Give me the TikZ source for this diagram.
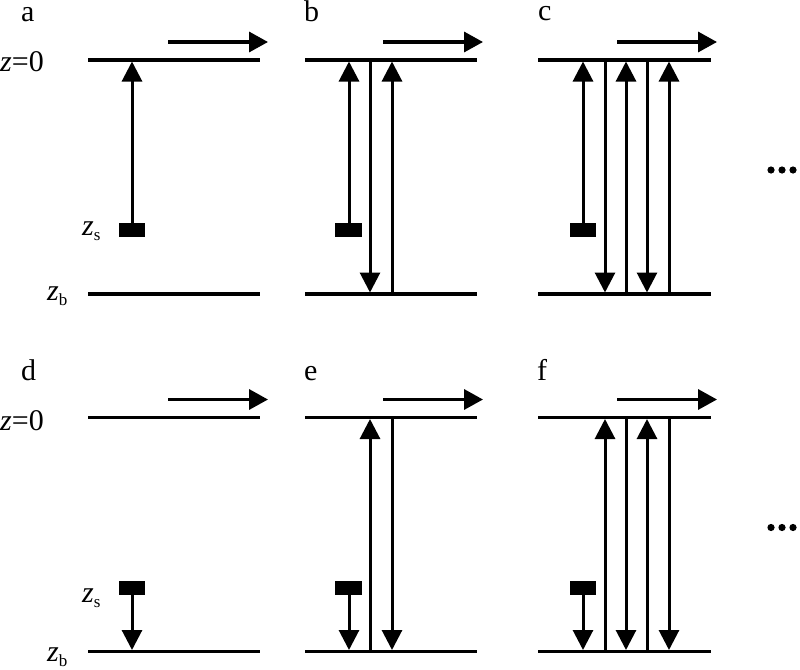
\documentclass[tikz,border=0pt]{standalone}
\usepackage{fontspec}
\setmainfont{Liberation Serif}
\usetikzlibrary{arrows.meta}
\newcommand\zsub[1]{\textit{z}\raisebox{-5pt}{\fontsize{17}{17}\selectfont #1}}
\tikzset{
  hline/.style={line width=3.4pt},
  arr/.style={line width=3pt,-{Triangle[length=20pt,width=20pt]}},
  flow/.style={line width=3.4pt,-{Triangle[length=19pt,width=20pt]}},
  lbl/.style={inner sep=0pt,anchor=base west,font=\fontsize{30}{32}\selectfont},
  blk/.style={fill=black},
}
\begin{document}
\begin{tikzpicture}[x=1pt,y=-1pt]
\useasboundingbox (0,0) rectangle (800,669);
% ---------- top row ----------
% panel a
\node[lbl] (la) at (21,22) {a};
\node[lbl] (z0a) at (0,71) {\textit{z}=0};
\node[lbl] (zsa) at (82,235) {\zsub{s}};
\node[lbl] (zba) at (47,300) {\zsub{b}};
\draw[hline] (88,60) -- (260,60);
\draw[hline] (88,294) -- (260,294);
\draw[flow] (168,42) -- (268,42);
\fill[blk] (119,223) rectangle (145,237);
\draw[arr] (132,223) -- (132,61.5);
% panel b
\node[lbl] (lb) at (304,22) {b};
\draw[hline] (305,60) -- (477,60);
\draw[hline] (305,294) -- (477,294);
\draw[flow] (383,42) -- (483,42);
\fill[blk] (335,223) rectangle (362,237);
\draw[arr] (349,223) -- (349,61.5);
\draw[arr] (370,60) -- (370,292.5);
\draw[arr] (392,294) -- (392,61.5);
% panel c
\node[lbl] (lc) at (538,21) {c};
\draw[hline] (538,60) -- (711,60);
\draw[hline] (538,294) -- (711,294);
\draw[flow] (617,42) -- (717,42);
\fill[blk] (570,223) rectangle (596,237);
\draw[arr] (583,223) -- (583,61.5);
\draw[arr] (605,60) -- (605,292.5);
\draw[arr] (626,294) -- (626,61.5);
\draw[arr] (647,60) -- (647,292.5);
\draw[arr] (669,294) -- (669,61.5);
\foreach \x in {771,782,793} \fill (\x,170) circle (3.6pt);
% ---------- bottom row ----------
\begin{scope}[shift={(0,357.5)}]
% panel d
\node[lbl] (ld) at (21,23) {d};
\node[lbl] (z0d) at (0,73) {\textit{z}=0};
\node[lbl] (zsd) at (82,245) {\zsub{s}};
\node[lbl] (zbd) at (47,304) {\zsub{b}};
\draw[hline] (88,60) -- (260,60);
\draw[hline] (88,294) -- (260,294);
\draw[flow] (168,42) -- (268,42);
\fill[blk] (119,223) rectangle (145,237);
\draw[arr] (132,237) -- (132,292.5);
% panel e
\node[lbl] (le) at (304,23) {e};
\draw[hline] (305,60) -- (477,60);
\draw[hline] (305,294) -- (477,294);
\draw[flow] (383,42) -- (483,42);
\fill[blk] (335,223) rectangle (362,237);
\draw[arr] (349,237) -- (349,292.5);
\draw[arr] (370,294) -- (370,61.5);
\draw[arr] (392,60) -- (392,292.5);
% panel f
\node[lbl] (lf) at (537,23) {f};
\draw[hline] (538,60) -- (711,60);
\draw[hline] (538,294) -- (711,294);
\draw[flow] (617,42) -- (717,42);
\fill[blk] (570,223) rectangle (596,237);
\draw[arr] (583,237) -- (583,292.5);
\draw[arr] (605,294) -- (605,61.5);
\draw[arr] (626,60) -- (626,292.5);
\draw[arr] (647,294) -- (647,61.5);
\draw[arr] (669,60) -- (669,292.5);
\foreach \x in {771,782,793} \fill (\x,170) circle (3.6pt);
\end{scope}
\end{tikzpicture}
\end{document}
